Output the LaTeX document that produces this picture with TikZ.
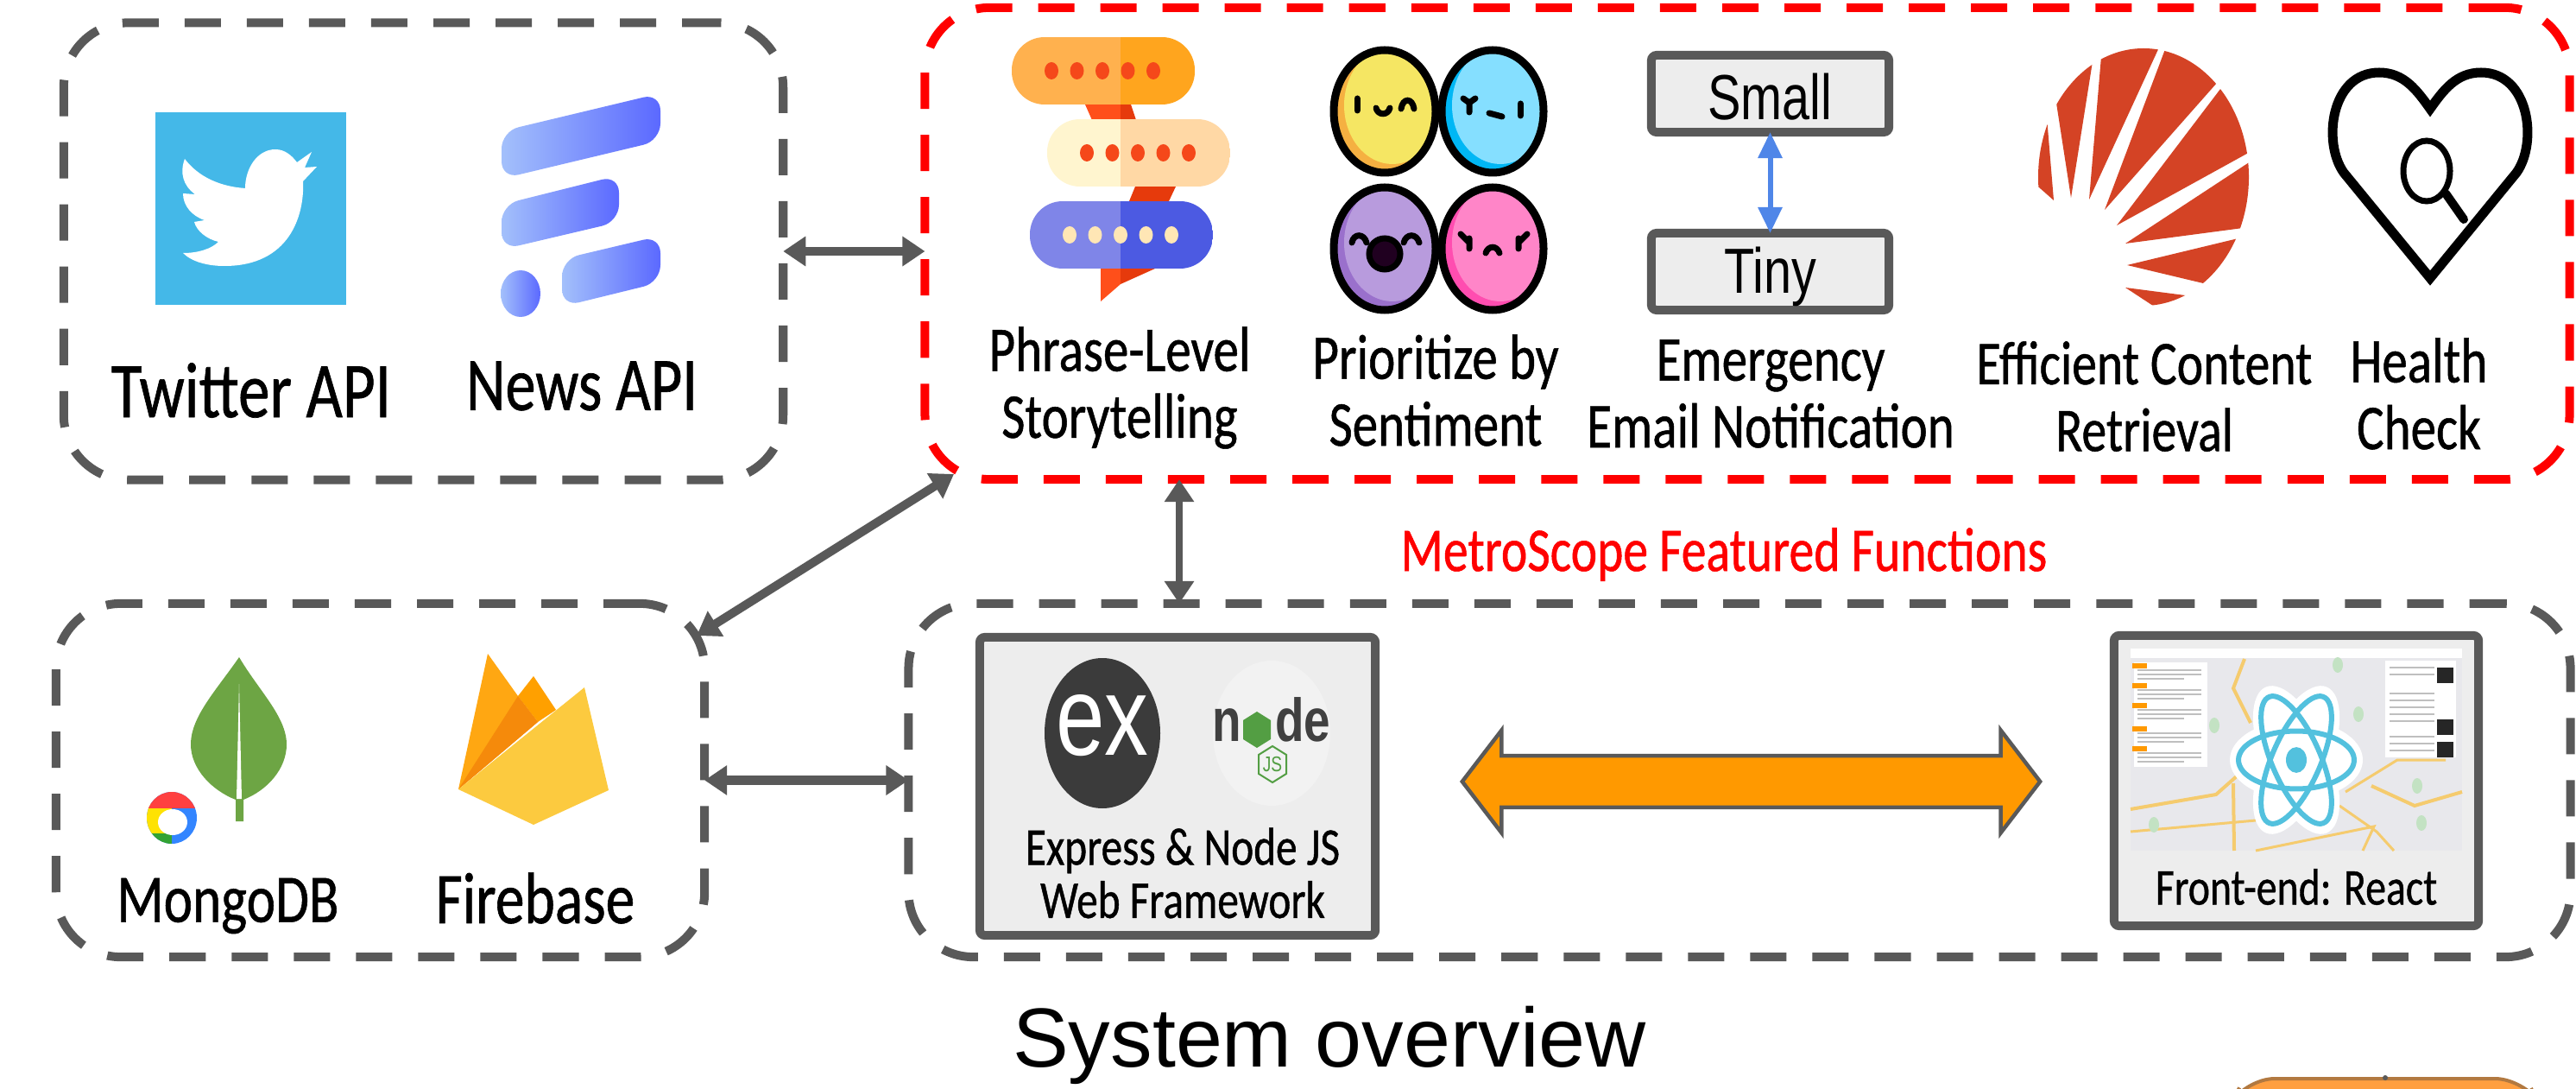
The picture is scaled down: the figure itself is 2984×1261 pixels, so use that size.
\documentclass[tikz,border=0pt]{standalone}
\usepackage{fontspec}
\usetikzlibrary{arrows.meta,shapes.arrows}
\setmainfont{Liberation Sans}
\newfontfamily\comic[FakeStretch=.8,FakeBold=.7]{Carlito}
\newfontfamily\narrow[FakeStretch=.78]{Liberation Sans}
\definecolor{boxgray}{HTML}{595959}
\definecolor{panelgray}{HTML}{EDEDED}
\definecolor{twitterblue}{HTML}{44B8E8}
\definecolor{newslight}{HTML}{A3C0FB}
\definecolor{newsdark}{HTML}{5B69FF}
\definecolor{fanred}{HTML}{D44325}
\definecolor{orbitblue}{HTML}{53C1DE}
\definecolor{roadyellow}{HTML}{F5CB6E}
\definecolor{mapgray}{HTML}{E8E8EC}
\definecolor{tailred}{HTML}{FF4F1A}
\definecolor{taildark}{HTML}{E63A0C}
\definecolor{dotred}{HTML}{F5481A}
\definecolor{leafgreen}{HTML}{6DA544}
\definecolor{nodegreen}{HTML}{539E43}
\definecolor{syncorange}{HTML}{FF9900}
\definecolor{tinyblue}{HTML}{4F86E8}
\definecolor{fireyellow}{HTML}{FCCA3F}
\definecolor{firelight}{HTML}{FFA712}
\definecolor{firemid}{HTML}{FFA000}
\definecolor{firedark}{HTML}{F58A0B}
\newcommand{\moodface}[4]{
	\begin{scope}
		\clip (#1,#2) ellipse (59 and 71);
		\fill[fill=#4] (#1,#2) ellipse (59 and 71);
		\fill[fill=#3] (#1+9,#2-7) ellipse (56 and 68);
	\end{scope}
	\draw[line width=.09cm] (#1,#2) ellipse (59 and 71);
}
\newcommand{\bubble}[5]{
	\begin{scope}
		\clip[rounded corners=.38cm] (#1,#2) rectangle (#1+212,#2+78);
		\fill[fill=#3] (#1,#2) rectangle (1298,#2+78);
		\fill[fill=#4] (1298,#2) rectangle (#1+212,#2+78);
	\end{scope}
	\foreach \d in {0,...,4}{
		\fill[fill=#5] (#1+46+\d*29.5,#2+39) ellipse (8 and 10);
	}
}
\definecolor{bubbleA}{HTML}{FFB14E}
\definecolor{bubbleB}{HTML}{FFA51E}
\definecolor{bubbleC}{HTML}{FFF5CF}
\definecolor{bubbleD}{HTML}{FFD8A5}
\definecolor{bubbleE}{HTML}{7F85E8}
\definecolor{bubbleF}{HTML}{4C5AE2}
\definecolor{dotcream}{HTML}{FFE6B5}
\definecolor{faceyellow}{HTML}{F5E663}
\definecolor{shadeyellow}{HTML}{F5B041}
\definecolor{faceblue}{HTML}{85DFFF}
\definecolor{shadeblue}{HTML}{00B7F5}
\definecolor{facepurple}{HTML}{B89BDD}
\definecolor{shadepurple}{HTML}{9A70CC}
\definecolor{facepink}{HTML}{FF85C8}
\definecolor{shadepink}{HTML}{FF4DB0}
\tikzset{
	dashbox/.style={draw=boxgray,line width=.1cm,dash pattern=on .42cm off .3cm,rounded corners=.75cm,outer sep=0pt,inner sep=0pt},
	solidbox/.style={draw=boxgray,fill=panelgray,line width=.1cm,rounded corners=.06cm,outer sep=0pt,inner sep=0pt},
	link/.style={<->,>={Triangle[length=.26cm,width=.33cm]},draw=boxgray,line width=.1cm},
	lab/.style={font=\comic\fontsize{#1}{22}\selectfont,align=center,inner sep=0pt},
	sans/.style={font=\narrow\fontsize{#1}{#1}\selectfont,inner sep=0pt},
	newsbar/.style={left color=newslight,right color=newsdark},
}
\begin{document}
\begin{tikzpicture}[x=.01cm,y=-.01cm]
	\fill[white] (0,0) rectangle (2984,1261);
	\useasboundingbox (0,0) rectangle (2984,1261);

	\node[dashbox,minimum width=8.33cm,minimum height=5.29cm] (srcbox) at (490.5,291) {};
	\node[dashbox,draw=red,minimum width=19.04cm,minimum height=5.46cm] (funcbox) at (2024,282) {};
	\node[dashbox,minimum width=7.51cm,minimum height=4.09cm] (dbbox) at (440.5,903.5) {};
	\node[dashbox,minimum width=19.24cm,minimum height=4.09cm] (webbox) at (2015,903.5) {};

	\fill[twitterblue] (180,130) rectangle (401,353);
	\fill[white] (214,184) .. controls (230,205) and (255,216) .. (284,218) .. controls (284,195) and (298,173) .. (319,173)
		.. controls (330,173) and (338,180) .. (344,188) -- (361,176) -- (353,194) -- (367,193) -- (351,210)
		.. controls (353,250) and (335,308) .. (260,308) .. controls (240,308) and (222,303) .. (212,293)
		.. controls (230,293) and (245,288) .. (253,280) .. controls (240,277) and (228,268) .. (225,257) -- (237,255)
		.. controls (222,250) and (212,238) .. (212,224) -- (226,225) .. controls (212,215) and (208,200) .. (214,184) -- cycle;

	\shade[newsbar,rounded corners=.2cm] (581,152) -- (765,108) -- (765,163) -- (581,207) -- cycle;
	\shade[newsbar,rounded corners=.2cm] (581,237) -- (717,203) -- (717,257) -- (581,289) -- cycle;
	\shade[newsbar,rounded corners=.2cm] (651,300) -- (765,273) -- (765,327) -- (651,355) -- cycle;
	\shade[newsbar] (603,340) ellipse (23 and 27);

	\node[lab=26] (twitterlab) at (291,452) {Twitter API};
	\node[lab=25] (newslab) at (674,447) {News API};

	\fill[tailred] (1257,121) -- (1298,121) -- (1298,139) -- (1265,139) -- cycle;
	\fill[taildark] (1298,121) -- (1310,121) -- (1316,139) -- (1298,139) -- cycle;
	\fill[taildark] (1315,216) -- (1362,216) -- (1354,233) -- (1308,233) -- cycle;
	\fill[tailred] (1275,311) -- (1298,311) -- (1298,329) -- (1275,349) -- cycle;
	\fill[taildark] (1298,311) -- (1338,311) -- (1298,329) -- cycle;
	\bubble{1172}{43}{bubbleA}{bubbleB}{dotred}
	\bubble{1213}{138}{bubbleC}{bubbleD}{dotred}
	\bubble{1193}{233}{bubbleE}{bubbleF}{dotcream}
	\node[lab=21] (storylab) at (1297,449) {Phrase-Level\\Storytelling};

	\moodface{1604}{129}{faceyellow}{shadeyellow}
	\moodface{1729}{129}{faceblue}{shadeblue}
	\moodface{1604}{288}{facepurple}{shadepurple}
	\moodface{1729}{288}{facepink}{shadepink}
	\foreach \ex/\ey in {1572/121,1761/127}{
		\draw[line width=.07cm,line cap=round] (\ex,\ey-7) -- (\ex,\ey+7);
	}
	\draw[line width=.07cm,line cap=round] (1594,125) .. controls (1596,134) and (1608,134) .. (1610,125);
	\draw[line width=.07cm,line cap=round] (1623,126) .. controls (1625,113) and (1636,113) .. (1638,126);
	\draw[line width=.07cm,line cap=round] (1695,114) -- (1702,119) -- (1709,114) (1702,119) -- (1702,130);
	\draw[line width=.07cm,line cap=round] (1725,131) -- (1740,135);
	\draw[line width=.07cm,line cap=round] (1566,281) .. controls (1568,270) and (1580,270) .. (1583,281);
	\draw[line width=.07cm,line cap=round] (1626,281) .. controls (1629,270) and (1641,270) .. (1644,281);
	\draw[line width=.07cm,fill=black!75!violet] (1604,294) ellipse (18 and 18);
	\draw[line width=.07cm,line cap=round] (1692,271) -- (1702,281) (1702,276) -- (1702,288);
	\draw[line width=.07cm,line cap=round] (1769,271) -- (1759,281) (1759,276) -- (1759,288);
	\draw[line width=.07cm,line cap=round] (1721,293) .. controls (1724,284) and (1734,284) .. (1737,293);
	\node[lab=21] (moodlab) at (1663,452) {Prioritize by\\Sentiment};

	\node[solidbox,minimum width=2.75cm,minimum height=.89cm] (smallbox) at (2050.5,108.5) {};
	\node[solidbox,minimum width=2.75cm,minimum height=.89cm] (tinybox) at (2050.5,314.5) {};
	\node[sans=21] (smalltext) at ([yshift=-.04cm]smallbox.center) {Small};
	\node[sans=21] (tinytext) at ([yshift=-.06cm]tinybox.center) {Tiny};
	\draw[<->,>={Triangle[length=.3cm,width=.27cm]},draw=tinyblue,line width=.06cm] (smallbox) -- (tinybox);
	\node[lab=21] (maillab) at (2051,456) {Emergency\\Email Notification};

	\begin{scope}
		\clip (2483,205) ellipse (122 and 149);
		\fill[fanred] (2379,232) -- (2368,100) -- (2320,180) -- cycle;
		\fill[fanred] (2399,229) -- (2377,87) -- (2431,27) -- cycle;
		\fill[fanred] (2420,231) -- (2438,18) -- (2524,5) -- cycle;
		\fill[fanred] (2438,243) -- (2528,4) -- (2606,53) -- cycle;
		\fill[fanred] (2452,261) -- (2607,57) -- (2648,153) -- cycle;
		\fill[fanred] (2462,282) -- (2648,160) -- (2636,259) -- cycle;
		\fill[fanred] (2464,307) -- (2626,268) -- (2594,338) -- cycle;
		\fill[fanred] (2462,333) -- (2562,346) -- (2526,375) -- cycle;
	\end{scope}
	\node[lab=20.5] (fanlab) at (2484,459) {Efficient Content\\Retrieval};

	\draw[line width=.11cm] (2815,322) -- (2715,200) .. controls (2690,165) and (2700,84) .. (2756,84) .. controls (2785,84) and (2800,105) .. (2815,126)
		.. controls (2830,105) and (2845,84) .. (2874,84) .. controls (2930,84) and (2940,165) .. (2915,200) -- cycle;
	\draw[line width=.07cm] (2811,198) ellipse (27 and 35);
	\draw[line width=.1cm,line cap=round] (2833,224) -- (2854,254);
	\node[lab=21] (healthlab) at (2802,456) {Health\\Check};

	\node[lab=20.5,text=red] (metrolab) at (1997,642) {MetroScope Featured Functions};

	\fill[leafgreen] (277,761) .. controls (250,800) and (221,830) .. (221,862) .. controls (221,890) and (245,915) .. (273,926) -- (273,951) -- (282,951) -- (282,926)
		.. controls (310,915) and (332,890) .. (332,862) .. controls (332,830) and (300,800) .. (277,761) -- cycle;
	\fill[white] (277,792) -- (280,925) -- (274,925) -- cycle;
	\begin{scope}
		\clip (199,947) ellipse (29 and 30);
		\fill[blue!60!cyan!80!white] (170,917) rectangle (228,977);
		\fill[yellow!85!orange] (170,930) rectangle (199,965);
		\fill[red!75!white] (170,917) rectangle (228,936);
		\fill[green!55!black!80!white] (170,965) rectangle (199,977);
	\end{scope}
	\fill[white] (200,952) ellipse (17 and 15);
	\node[lab=22.5] (mongolab) at (264,1049) {MongoDB};

	\fill[firelight] (531,914) -- (565,757) -- (600,806) -- (623,836) -- cycle;
	\fill[firemid] (600,806) -- (618,783) -- (644,822) -- (623,836) -- cycle;
	\fill[firedark] (531,914) -- (600,806) -- (623,836) -- cycle;
	\fill[fireyellow] (531,914) -- (677,796) -- (705,915) -- (618,955) -- cycle;
	\node[lab=24] (firelab) at (620,1040) {Firebase};

	\node[solidbox,minimum width=4.58cm,minimum height=3.45cm] (exbox) at (1364,910.5) {};
	\node[solidbox,minimum width=4.22cm,minimum height=3.36cm] (reactbox) at (2660,904) {};
	\fill[black!77] (1277,849) ellipse (67 and 87);
	\fill[black!5] (1473,849) ellipse (68 and 84);
	\node[sans=37,text=white] (extext) at (1277,840) {ex};
	\node[font=\narrow\bfseries\fontsize{20}{20}\selectfont,text=black!75,inner sep=0pt] (nodetext) at (1473,833) {n\hspace{.55em}de};
	\fill[nodegreen] (1456,824) -- (1472,834) -- (1472,856) -- (1456,866) -- (1440,856) -- (1440,834) -- cycle;
	\draw[line width=.02cm,draw=nodegreen] (1474,864) -- (1490,874) -- (1490,896) -- (1474,906) -- (1458,896) -- (1458,874) -- cycle;
	\node[sans=7,text=nodegreen] (jstext) at (1474,885) {JS};
	\node[lab=17,font=\comic\fontsize{17.5}{17.5}\selectfont] (exlab) at (1370,1011) {Express \& Node JS\\Web Framework};

	\fill[mapgray] (2468,751) rectangle (2852,985);
	\fill[white] (2468,751) rectangle (2852,762);
	\draw[roadyellow,line width=.04cm] (2468,937) -- (2567,920) -- (2593,897);
	\draw[roadyellow,line width=.03cm] (2468,963) -- (2613,950);
	\draw[roadyellow,line width=.04cm] (2587,907) -- (2588,985);
	\draw[roadyellow,line width=.04cm] (2600,763) -- (2587,797) -- (2607,837);
	\draw[roadyellow,line width=.03cm] (2717,917) -- (2777,880) -- (2833,880);
	\draw[roadyellow,line width=.04cm] (2747,910) -- (2797,933) -- (2852,917);
	\draw[roadyellow,line width=.03cm] (2613,985) -- (2750,957) -- (2737,985);
	\draw[roadyellow,line width=.03cm] (2710,933) -- (2753,963) -- (2773,985);
	\foreach \gx/\gy in {2495/955,2565/840,2708/770,2732/827,2805/953,2628/930,2800/910}{
		\fill[green!35!gray!35!white] (\gx,\gy) ellipse (6 and 9);
	}
	\fill[white] (2472,767) rectangle (2557,888);
	\fill[white] (2763,765) rectangle (2845,877);
	\foreach \ty in {771,794,817,844,867}{
		\fill[orange!80!yellow] (2470,\ty-3) rectangle (2487,\ty+3);
		\draw[gray!50,line width=.012cm] (2476,\ty+5) -- (2550,\ty+5) (2476,\ty+10) -- (2550,\ty+10) (2476,\ty+15) -- (2530,\ty+15);
	}
	\foreach \ty in {773,781,803,811,819,827,835,853,861,869}{
		\draw[gray!50,line width=.012cm] (2768,\ty) -- (2820,\ty);
	}
	\foreach \ty in {773,833,859}{
		\fill[black!85] (2823,\ty) rectangle (2842,\ty+18);
	}
	\begin{scope}[shift={(2660,880)},yscale=1.24]
		\foreach \ang in {0,60,120}{
			\fill[white,rotate=\ang] (0,0) ellipse (77 and 37);
		}
		\foreach \ang in {0,60,120}{
			\draw[orbitblue,line width=.06cm,rotate=\ang] (0,0) ellipse (67 and 27);
		}
		\fill[orbitblue] (0,0) ellipse (12 and 12);
	\end{scope}
	\node[lab=17] (reactlab) at (2660,1027) {Front-end: React};

	\node[draw=boxgray,fill=syncorange,line width=.045cm,double arrow,minimum height=6.69cm,minimum width=1.14cm,inner xsep=0pt,inner ysep=.275cm,outer sep=0pt,double arrow head extend=.295cm,double arrow tip angle=105] (syncarrow) at (2028.5,905) {};

	\node[font=\fontsize{27.6}{27.6}\selectfont,inner sep=0pt] (titlelab) at (1540,1210) {System overview};

	\begin{scope}
		\clip (0,0) rectangle (2984,1261);
		\draw[draw=orange!60!black!75!white,fill=orange!75!white,line width=.04cm,rounded corners=.35cm] (2577,1290) -- (2600,1249) -- (2925,1249) -- (2950,1290) -- cycle;
	\end{scope}
	\coordinate (ticktop) at (2763,1248);
	\fill[boxgray] (ticktop) circle (3);

	\coordinate (funcend) at (1105,549);
	\coordinate (dbend) at (807,736);
	\coordinate (vlink) at (1366,625);
	\draw[link] (srcbox.east) -- (srcbox.east -| funcbox.west);
	\draw[link] (dbbox.east) -- (webbox.west);
	\draw[link] (funcend) -- (dbend);
	\draw[link,line width=.08cm] (vlink |- funcbox.south) -- (vlink |- webbox.north);
\end{tikzpicture}
\end{document}
